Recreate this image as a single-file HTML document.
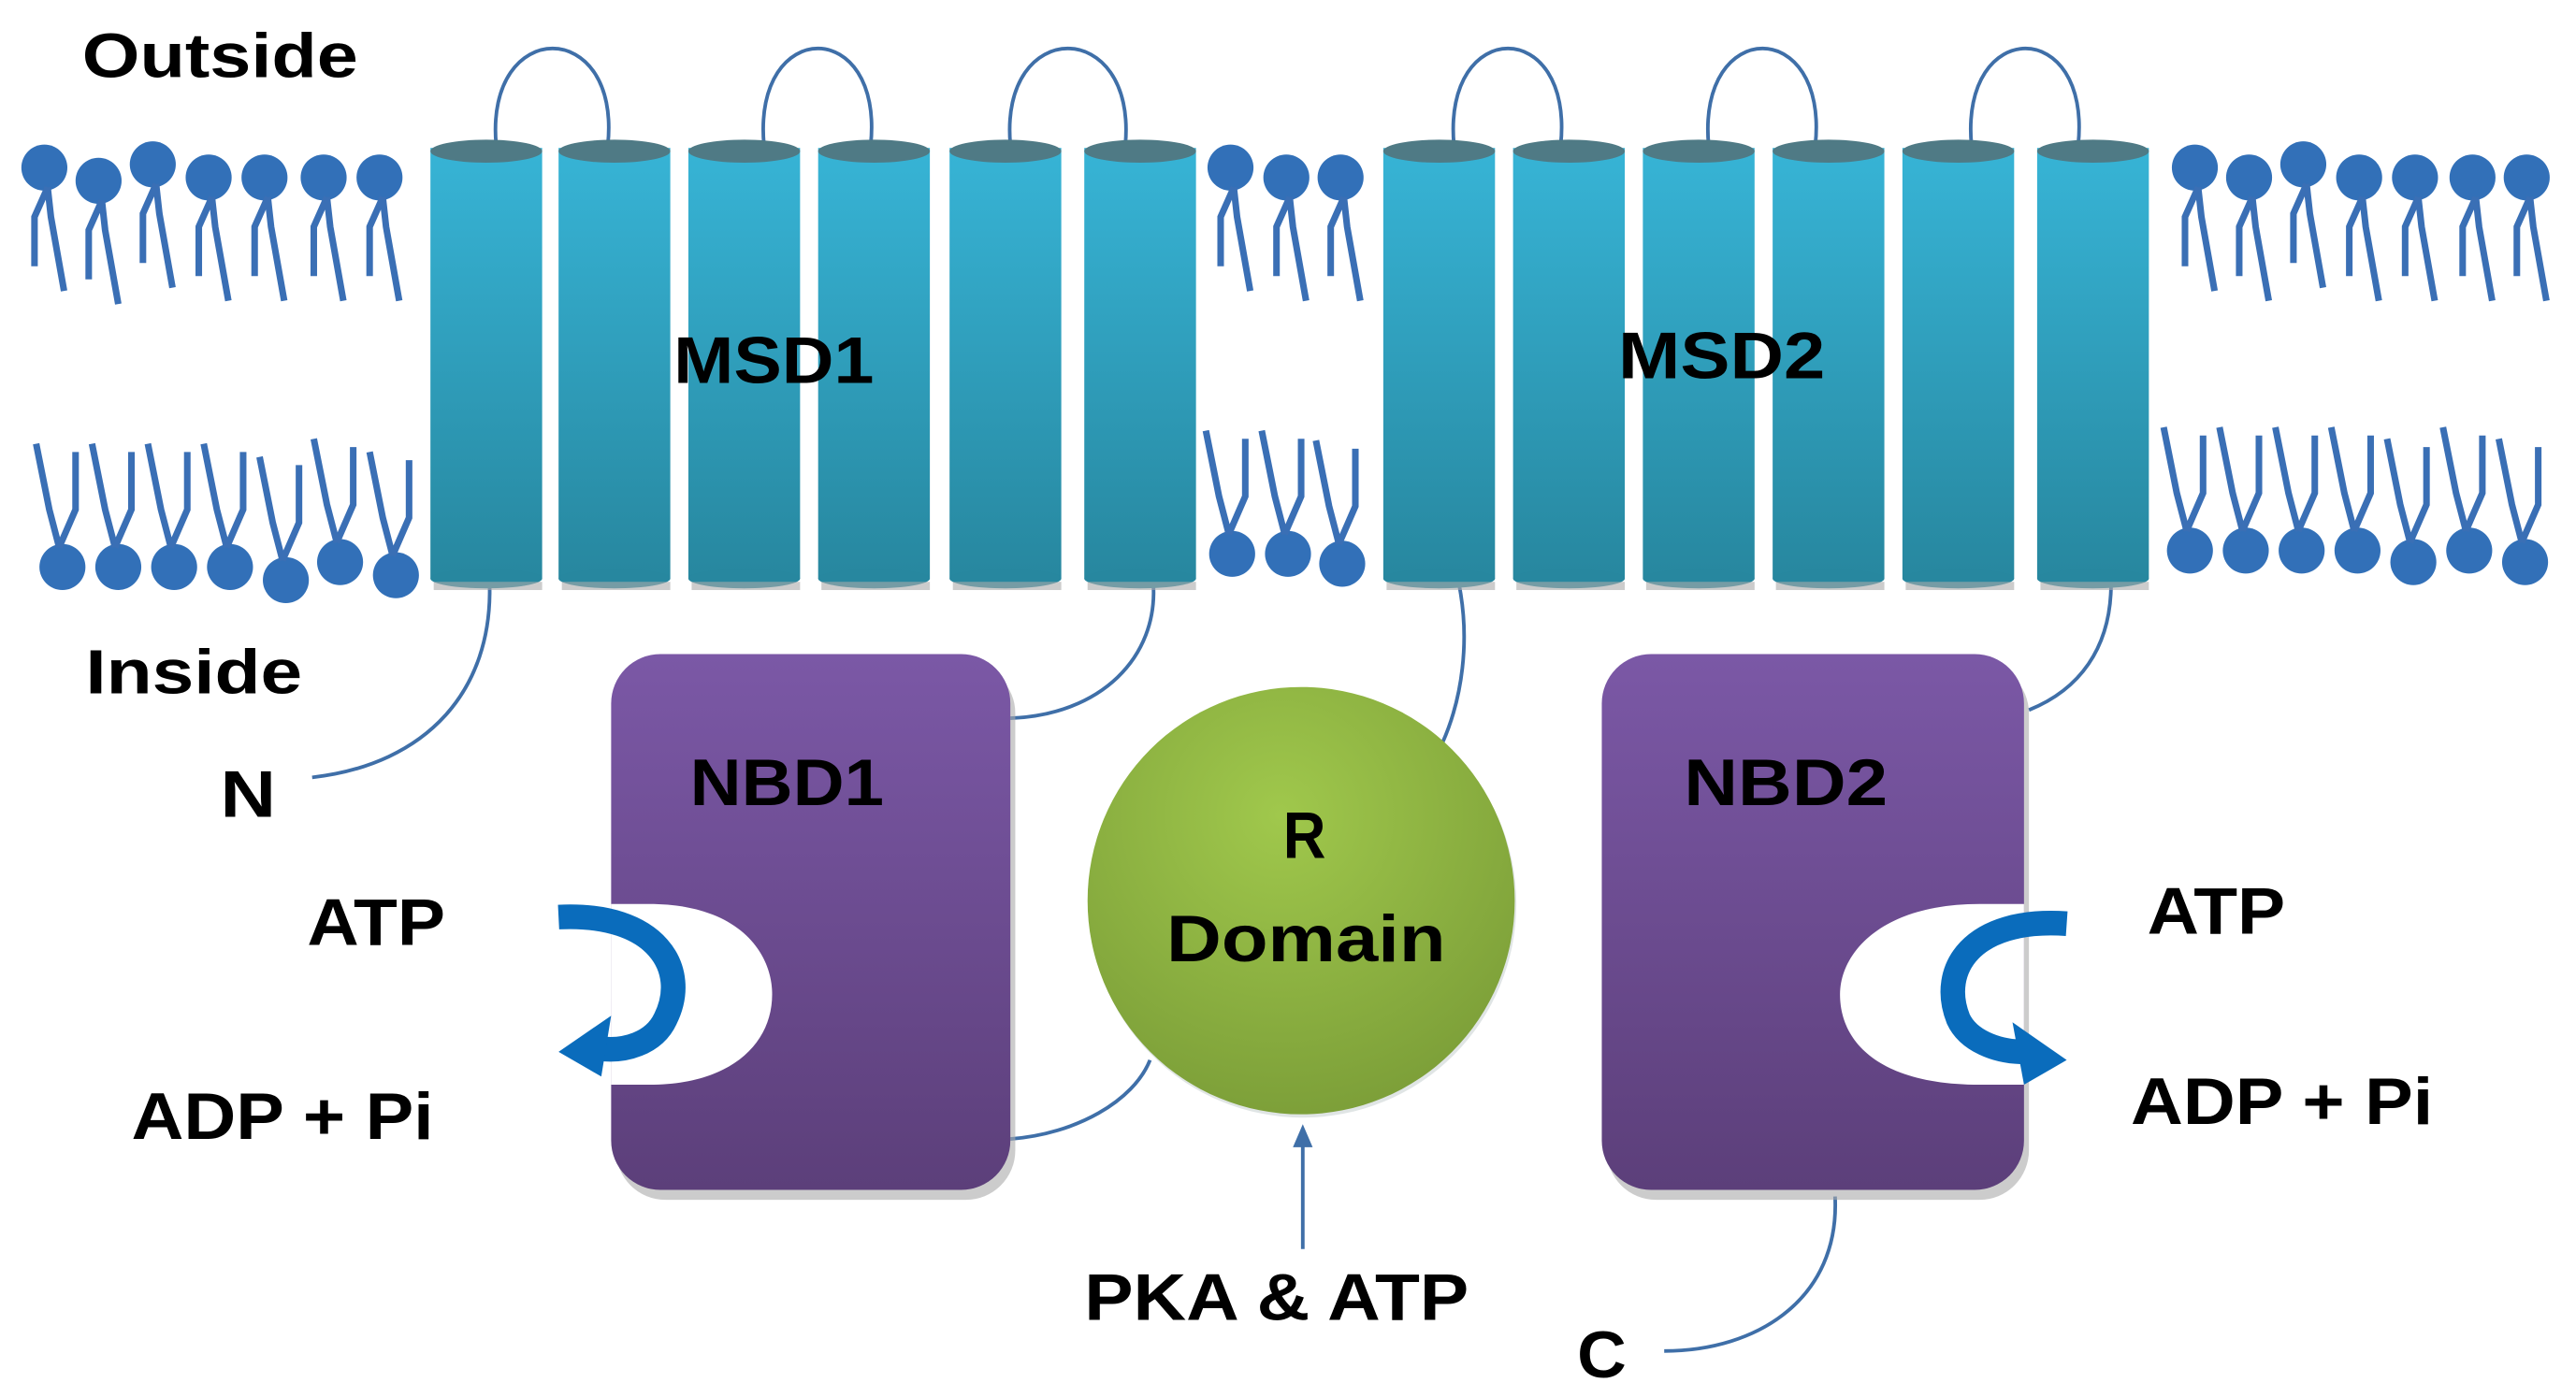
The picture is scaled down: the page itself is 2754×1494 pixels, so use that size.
<!DOCTYPE html>
<html><head><meta charset="utf-8">
<style>
html,body{margin:0;padding:0;background:#fff;}
svg{display:block;}
text{font-family:"Liberation Sans",sans-serif;font-weight:bold;fill:#000;}
</style></head>
<body>
<svg width="2754" height="1494" viewBox="0 0 1568 850" preserveAspectRatio="none" xmlns="http://www.w3.org/2000/svg">
<defs>
<linearGradient id="cyl" x1="0" y1="0" x2="0" y2="1">
<stop offset="0" stop-color="#37b4d6"/><stop offset="1" stop-color="#27879f"/></linearGradient>
<linearGradient id="pur" x1="0" y1="0" x2="0" y2="1">
<stop offset="0" stop-color="#7b58a6"/><stop offset="1" stop-color="#5c3f7a"/></linearGradient>
<radialGradient id="grn" cx="0.45" cy="0.3" r="0.8">
<stop offset="0" stop-color="#a0c84c"/><stop offset="1" stop-color="#789a36"/></radialGradient>
<g id="lipT">
<circle cx="0" cy="0" r="14" fill="#3270b8"/>
<path d="M2,12 L-6,30 L-6,60 M2,12 L4,30 L12,75" stroke="#3a6fb5" stroke-width="4" fill="none"/>
</g>
<g id="lipB">
<circle cx="0" cy="0" r="14" fill="#3270b8"/>
<path d="M-2,-12 L-8,-35 L-16,-75 M-2,-12 L8,-35 L8,-70" stroke="#3a6fb5" stroke-width="4" fill="none"/>
</g>
<g id="cy">
<rect x="0" y="90" width="68" height="262" fill="url(#cyl)"/>
<ellipse cx="34" cy="92" rx="34" ry="7" fill="#4f7a85"/>
<ellipse cx="34" cy="352" rx="34" ry="6" fill="#27879f"/>
<rect x="2" y="354" width="66" height="5" fill="#aaa" opacity="0.6"/>
</g>
</defs>

<g>
<use href="#lipT" x="27" y="102"/><use href="#lipT" x="60" y="110"/><use href="#lipT" x="93" y="100"/><use href="#lipT" x="127" y="108"/><use href="#lipT" x="161" y="108"/><use href="#lipT" x="197" y="108"/><use href="#lipT" x="231" y="108"/>
<use href="#lipT" x="749" y="102"/><use href="#lipT" x="783" y="108"/><use href="#lipT" x="816" y="108"/>
<use href="#lipT" x="1336" y="102"/><use href="#lipT" x="1369" y="108"/><use href="#lipT" x="1402" y="100"/><use href="#lipT" x="1436" y="108"/><use href="#lipT" x="1470" y="108"/><use href="#lipT" x="1505" y="108"/><use href="#lipT" x="1538" y="108"/>
</g>
<g>
<use href="#lipB" x="38" y="345"/><use href="#lipB" x="72" y="345"/><use href="#lipB" x="106" y="345"/><use href="#lipB" x="140" y="345"/><use href="#lipB" x="174" y="353"/><use href="#lipB" x="207" y="342"/><use href="#lipB" x="241" y="350"/>
<use href="#lipB" x="750" y="337"/><use href="#lipB" x="784" y="337"/><use href="#lipB" x="817" y="343"/>
<use href="#lipB" x="1333" y="335"/><use href="#lipB" x="1367" y="335"/><use href="#lipB" x="1401" y="335"/><use href="#lipB" x="1435" y="335"/><use href="#lipB" x="1469" y="342"/><use href="#lipB" x="1503" y="335"/><use href="#lipB" x="1537" y="342"/>
</g>

<g stroke="#3f6fa8" stroke-width="2.2" fill="none">
<path d="M302,88 C295,10 378,10 370,88"/>
<path d="M465,88 C458,10 538,10 530,88"/>
<path d="M615,88 C608,10 692,10 685,88"/>
<path d="M885,88 C878,10 958,10 950,88"/>
<path d="M1040,88 C1033,10 1113,10 1105,88"/>
<path d="M1200,88 C1193,10 1273,10 1265,88"/>
<path d="M298,355 C300,420 260,465 190,473"/>
<path d="M702,355 C705,400 670,435 615,437"/>
<path d="M888,355 C895,390 890,425 878,452"/>
<path d="M700,645 C690,670 655,690 615,693"/>
<path d="M1285,355 C1285,395 1265,420 1235,432"/>
<path d="M1117,728 C1120,790 1070,822 1013,822"/>
<path d="M793,760 L793,692"/>
</g>
<path d="M793,684 L787,698 L799,698 Z" fill="#3f6fa8"/>

<use href="#cy" x="262" y="0"/><use href="#cy" x="340" y="0"/><use href="#cy" x="419" y="0"/><use href="#cy" x="498" y="0"/><use href="#cy" x="578" y="0"/><use href="#cy" x="660" y="0"/>
<use href="#cy" x="842" y="0"/><use href="#cy" x="921" y="0"/><use href="#cy" x="1000" y="0"/><use href="#cy" x="1079" y="0"/><use href="#cy" x="1158" y="0"/><use href="#cy" x="1240" y="0"/>

<rect x="375" y="404" width="243" height="326" rx="30" fill="#aaa" opacity="0.6"/>
<rect x="372" y="398" width="243" height="326" rx="30" fill="url(#pur)"/>
<path d="M372,550 L395,550 C450,550 470,580 470,605 C470,635 445,660 395,660 L372,660 Z" fill="#fff"/>
<rect x="978" y="404" width="257" height="326" rx="30" fill="#aaa" opacity="0.6"/>
<rect x="975" y="398" width="257" height="326" rx="30" fill="url(#pur)"/>
<path d="M1232,550 L1205,550 C1145,550 1120,580 1120,605 C1120,635 1145,660 1205,660 L1232,660 Z" fill="#fff"/>

<circle cx="793" cy="550" r="130" fill="#9aa" opacity="0.3"/>
<circle cx="792" cy="548" r="130" fill="url(#grn)"/>

<path d="M340,558 C400,555 420,590 405,620 C398,635 380,640 365,638" stroke="#0a6cbc" stroke-width="15" fill="none"/>
<path d="M340,640 L372,618 L366,655 Z" fill="#0a6cbc"/>
<path d="M1258,562 C1200,558 1180,590 1192,620 C1198,633 1215,640 1232,640" stroke="#0a6cbc" stroke-width="15" fill="none"/>
<path d="M1258,645 L1225,622 L1232,660 Z" fill="#0a6cbc"/>

<text x="50" y="47" font-size="38" textLength="168" lengthAdjust="spacingAndGlyphs">Outside</text>
<text x="52" y="422" font-size="38" textLength="132" lengthAdjust="spacingAndGlyphs">Inside</text>
<text x="410" y="233" font-size="40" textLength="122" lengthAdjust="spacingAndGlyphs">MSD1</text>
<text x="985" y="230" font-size="40" textLength="126" lengthAdjust="spacingAndGlyphs">MSD2</text>
<text x="420" y="490" font-size="40" textLength="118" lengthAdjust="spacingAndGlyphs">NBD1</text>
<text x="1025" y="490" font-size="40" textLength="124" lengthAdjust="spacingAndGlyphs">NBD2</text>
<text x="781" y="522" font-size="40" textLength="26" lengthAdjust="spacingAndGlyphs">R</text>
<text x="710" y="585" font-size="40" textLength="170" lengthAdjust="spacingAndGlyphs">Domain</text>
<text x="134" y="497" font-size="40" textLength="34" lengthAdjust="spacingAndGlyphs">N</text>
<text x="187" y="575" font-size="40" textLength="84" lengthAdjust="spacingAndGlyphs">ATP</text>
<text x="80" y="693" font-size="40" textLength="184" lengthAdjust="spacingAndGlyphs">ADP + Pi</text>
<text x="1307" y="568" font-size="40" textLength="84" lengthAdjust="spacingAndGlyphs">ATP</text>
<text x="1297" y="684" font-size="40" textLength="184" lengthAdjust="spacingAndGlyphs">ADP + Pi</text>
<text x="660" y="803" font-size="40" textLength="234" lengthAdjust="spacingAndGlyphs">PKA &amp; ATP</text>
<text x="960" y="838" font-size="40" textLength="30" lengthAdjust="spacingAndGlyphs">C</text>
</svg>
</body></html>
